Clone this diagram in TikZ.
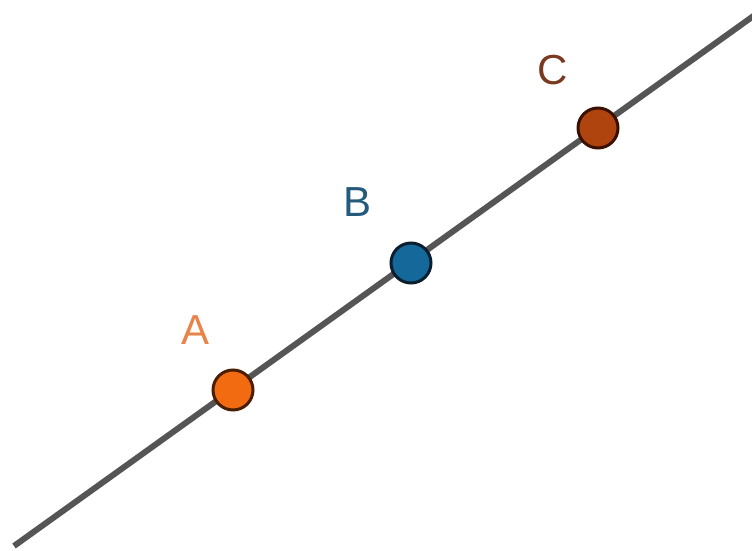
\documentclass[tikz,border=0pt]{standalone}
\usepackage{fontspec}
\setmainfont{Liberation Sans}
\definecolor{linegray}{HTML}{555555}
\definecolor{afill}{HTML}{F26B10}
\definecolor{aedge}{HTML}{4A1E00}
\definecolor{alab}{HTML}{E8834A}
\definecolor{bfill}{HTML}{14689A}
\definecolor{bedge}{HTML}{0A1E2E}
\definecolor{blab}{HTML}{245A7C}
\definecolor{cfill}{HTML}{B0440E}
\definecolor{cedge}{HTML}{3A1000}
\definecolor{clab}{HTML}{7A3A22}
\tikzset{
  pt/.style={circle, minimum size=40pt, inner sep=0pt, line width=3pt},
  lab/.style={font=\fontsize{42}{42}\selectfont, inner sep=0pt}
}
\begin{document}
\begin{tikzpicture}[x=1pt,y=-1pt]
\useasboundingbox (0,0) rectangle (752,551);
\coordinate (s) at (14,546);
\coordinate (e) at (760,11.3);
\draw[linegray, line width=6pt] (s) -- (e);
\node[pt, fill=afill, draw=aedge] (A) at (233,390) {};
\node[pt, fill=bfill, draw=bedge] (B) at (411,263) {};
\node[pt, fill=cfill, draw=cedge] (C) at (598,128) {};
\node[lab, text=alab] (la) at (196,330) {A};
\node[lab, text=blab] (lb) at (358,202) {B};
\node[lab, text=clab] (lc) at (553,70) {C};
\end{tikzpicture}
\end{document}
